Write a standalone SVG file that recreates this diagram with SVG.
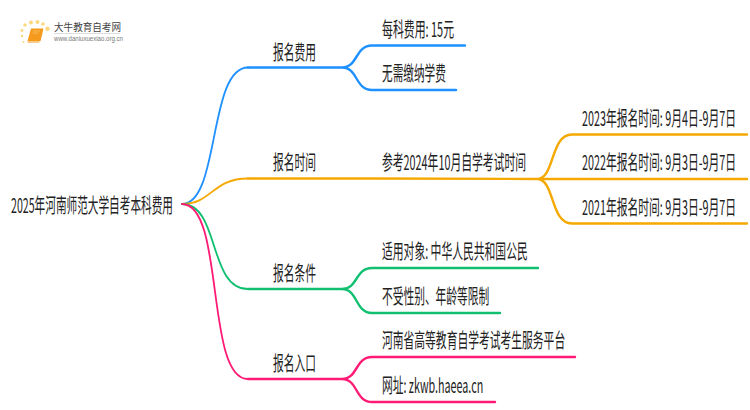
<svg xmlns="http://www.w3.org/2000/svg" width="750" height="410" viewBox="0 0 750 410">
<style>
text{font-family:"Noto Sans CJK SC","Liberation Sans",sans-serif;fill:#222;font-size:20px}
.c{fill:none;stroke-linecap:round}
.b{stroke:#1e90ff}.o{stroke:#f5a800}.g{stroke:#10c070}.p{stroke:#ff1a75}
.m{stroke-width:2.400}
</style>
<rect width="750" height="410" fill="#fff"/>
<g id="logo">
<g fill="#fbd77e"><circle cx="47.500" cy="28.800" r="2.200"/><circle cx="25" cy="25" r="1.700"/><circle cx="31" cy="22.500" r="2"/><circle cx="37.500" cy="22" r="2"/><circle cx="43" cy="24" r="1.800"/><circle cx="22" cy="30.500" r="1.400"/><circle cx="22" cy="36" r="1.200"/><circle cx="23.500" cy="42" r="1"/></g>
<path d="M31 28.500h11.500q1 0 .8 1l-2.600 11q-.3 1-1.300 1h-12z" fill="#f59a1c"/><path d="M27.400 41.500h11.800l-.4 1.600h-11z" fill="#f7c98a"/><path d="M33 31h7M32.500 33h6" stroke="#fbd08a" stroke-width=".6"/>
<text x="54" y="31" textLength="67" lengthAdjust="spacingAndGlyphs" style="font-size:10px;fill:#444">大牛教育自考网</text>
<rect x="54" y="33" width="66" height="1" fill="#ddd"/>
<text x="54" y="41" textLength="69" lengthAdjust="spacingAndGlyphs" style="font-family:'Liberation Sans',sans-serif;font-size:6.500px;fill:#777">www.daniuxuexiao.org.cn</text>
</g>
<g id="connectors">
<path class="c b" stroke-width="1.800" d="M182 204C220 204 208 67.500 248 67.500"/>
<path class="c o" stroke-width="1.800" d="M182 204C212 204 212 178.500 248 178.500"/>
<path class="c g" stroke-width="1.800" d="M182 204C220 204 208 289 248 289"/>
<path class="c p" stroke-width="1.800" d="M182 204C225 204 205 379 248 379"/>
<path class="c b m" d="M248 67.500H342C358 67.500 355 45.500 372 45.500H465M342 67.500C358 67.500 355 90 372 90H456"/>
<path class="c o m" d="M248 178.500L372 178.500L537 179C555 179 550 134.500 572 134.500H747M537 179H747M537 179C555 179 550 223.500 572 223.500H747"/>
<path class="c g m" d="M248 289H342C358 289 355 268 372 268H538M342 289C358 289 355 313 372 313H500"/>
<path class="c p m" d="M248 379H342C358 379 355 357 372 357H575M342 379C358 379 355 402 372 402H495"/>
</g>
<g id="root"><text transform="translate(11 213) scale(.55 1)" textLength="294.500" lengthAdjust="spacingAndGlyphs">2025年河南师范大学自考本科费用</text></g>
<g id="n1"><text transform="translate(273 59.500) scale(.55 1)" textLength="78" lengthAdjust="spacingAndGlyphs">报名费用</text></g>
<g id="n2"><text transform="translate(273 170) scale(.55 1)" textLength="78" lengthAdjust="spacingAndGlyphs">报名时间</text></g>
<g id="n3"><text transform="translate(273 281) scale(.55 1)" textLength="78" lengthAdjust="spacingAndGlyphs">报名条件</text></g>
<g id="n4"><text transform="translate(273 370.500) scale(.55 1)" textLength="78" lengthAdjust="spacingAndGlyphs">报名入口</text></g>
<g id="n1a"><text transform="translate(382 37) scale(.55 1)" textLength="131" lengthAdjust="spacingAndGlyphs">每科费用: 15元</text></g>
<g id="n1b"><text transform="translate(382 81) scale(.55 1)" textLength="116" lengthAdjust="spacingAndGlyphs">无需缴纳学费</text></g>
<g id="n2a"><text transform="translate(382 170) scale(.55 1)" textLength="262" lengthAdjust="spacingAndGlyphs">参考2024年10月自学考试时间</text></g>
<g id="n2a1"><text transform="translate(582 125.500) scale(.55 1)" textLength="280" lengthAdjust="spacingAndGlyphs">2023年报名时间: 9月4日-9月7日</text></g>
<g id="n2a2"><text transform="translate(582 170) scale(.55 1)" textLength="280" lengthAdjust="spacingAndGlyphs">2022年报名时间: 9月3日-9月7日</text></g>
<g id="n2a3"><text transform="translate(582 214.500) scale(.55 1)" textLength="280" lengthAdjust="spacingAndGlyphs">2021年报名时间: 9月3日-9月7日</text></g>
<g id="n3a"><text transform="translate(382 259) scale(.55 1)" textLength="265" lengthAdjust="spacingAndGlyphs">适用对象: 中华人民共和国公民</text></g>
<g id="n3b"><text transform="translate(382 303.500) scale(.55 1)" textLength="195" lengthAdjust="spacingAndGlyphs">不受性别、年龄等限制</text></g>
<g id="n4a"><text transform="translate(382 348) scale(.55 1)" textLength="333" lengthAdjust="spacingAndGlyphs">河南省高等教育自学考试考生服务平台</text></g>
<g id="n4b"><text transform="translate(382 392.500) scale(.55 1)" textLength="184" lengthAdjust="spacingAndGlyphs">网址: zkwb.haeea.cn</text></g>
</svg>
